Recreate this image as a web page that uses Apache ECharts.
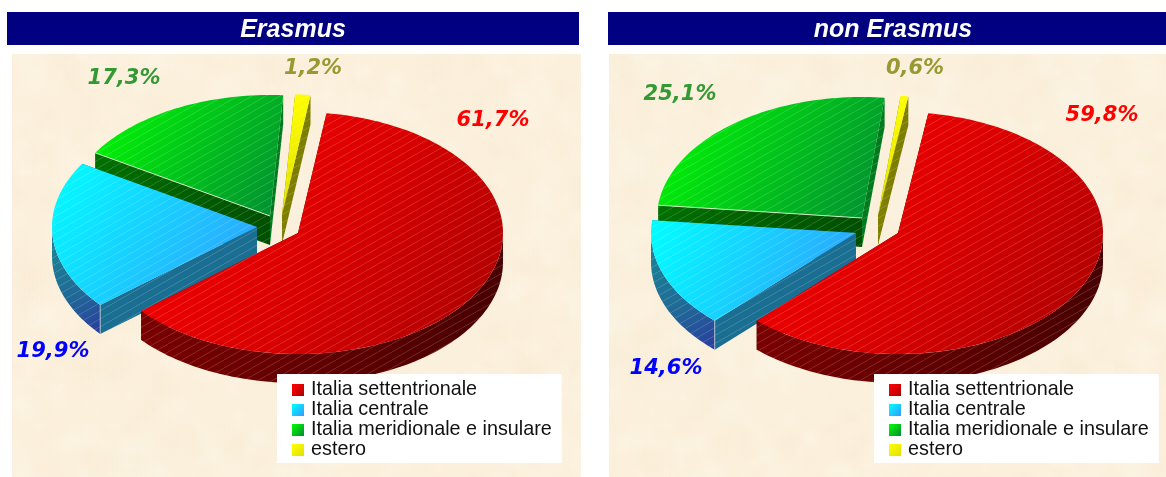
<!DOCTYPE html>
<html><head><meta charset="utf-8">
<style>html,body{margin:0;padding:0;background:#fff}#c{width:1166px;height:477px}</style>
<script src="https://cdn.jsdelivr.net/npm/echarts@6/dist/echarts.min.js"></script>
</head><body><div id="c"></div>
<script>
// ---- data ----
const categories = ['Italia settentrionale','Italia centrale','Italia meridionale e insulare','estero'];
const panelTitles = ['Erasmus','non Erasmus'];
const erasmusShares = [61.7,19.9,17.3,1.2];
const nonErasmusShares = [59.8,14.6,25.1,0.6];

// ---- layout and style ----
const RX=205, RY=121, DEPTH=29;
const layouts = [
  {cx:298,cy:233,start:-82,
   offset:[[0,0],[-41,-6],[-28,-17],[-16,-18]],
   label:[[493,121],[53,352],[124,79],[313,69]],
   legend:{left:277,top:374}},
  {cx:898,cy:233,start:-81.5,
   offset:[[0,0],[-42,0],[-36,-15],[-20,-17]],
   label:[[1102,116],[666,369],[680,95],[915,69]],
   legend:{left:874,top:374}}
];
const LG=echarts.graphic.LinearGradient;
const topFill=[
  ()=>new LG(0,0,1,1,[{offset:0,color:'#ff0000'},{offset:.55,color:'#d80000'},{offset:1,color:'#a80000'}]),
  ()=>new LG(0,0,1,1,[{offset:0,color:'#00ffff'},{offset:1,color:'#3399ff'}]),
  ()=>new LG(0,0,1,1,[{offset:0,color:'#00ff00'},{offset:1,color:'#008c33'}]),
  ()=>new LG(0,0,1,1,[{offset:0,color:'#ffff00'},{offset:1,color:'#e0e000'}])
];
const outerFill=[
  ()=>new LG(0,0,1,0,[{offset:0,color:'#7a0000'},{offset:.6,color:'#5c0000'},{offset:1,color:'#480000'}]),
  ()=>new LG(0,0,1,1,[{offset:0,color:'#178a96'},{offset:.6,color:'#206a96'},{offset:1,color:'#2a3c9e'}]),
  ()=>'#006600',
  ()=>'#808000'
];
const cutFill=[
  ()=>'#660000',
  ()=>'#1a6e92',
  ()=>new LG(0,0,1,0,[{offset:0,color:'#007000'},{offset:1,color:'#004f00'}]),
  ()=>'#808000'
];
const endCutFill=[()=>'#660000',()=>'#1a6e92',()=>'#007a1c',()=>'#7d7d00'];
const labelColors=['#ff0000','#0000ff','#339933','#999933'];

const hatch=document.createElement('canvas');
hatch.width=14;hatch.height=8;
(function(){const g=hatch.getContext('2d');g.strokeStyle='rgba(255,255,255,.17)';g.lineWidth=1;
 g.beginPath();g.moveTo(0,8);g.lineTo(14,0);g.stroke();})();

function parchment(w,h){
  const c=document.createElement('canvas');c.width=w;c.height=h;const g=c.getContext('2d');
  g.fillStyle='#fbf0dc';g.fillRect(0,0,w,h);
  let s=12345;const r=()=>(s=(s*16807)%2147483647)/2147483647;
  for(let i=0;i<1100;i++){
    const x=r()*w,y=r()*h,R=4+r()*20,t=r()>.5;
    const gr=g.createRadialGradient(x,y,0,x,y,R);
    gr.addColorStop(0,t?'rgba(255,250,238,.16)':'rgba(247,232,204,.14)');
    gr.addColorStop(1,t?'rgba(255,250,238,0)':'rgba(247,232,204,0)');
    g.fillStyle=gr;g.fillRect(x-R,y-R,2*R,2*R);
  }
  return c;
}
const texL=parchment(569,423),texR=parchment(557,423);

function arc(cx,cy,a,b,dy){
  const pts=[];const n=Math.max(2,Math.ceil(Math.abs(b-a)/1.5));
  for(let i=0;i<=n;i++){const t=(a+(b-a)*i/n)*Math.PI/180;
    pts.push([cx+RX*Math.cos(t),cy+RY*Math.sin(t)+dy]);}
  return pts;
}
function pctText(v){return v.toFixed(1).replace('.',',')+'%';}

function sliceRenderer(panel,idx,shares){
  const lay=layouts[panel];
  const total=shares.reduce((p,q)=>p+q,0);
  let before=0;for(let i=0;i<idx;i++)before+=shares[i];
  return function(params,api){
    const v=api.value(0);
    const a0=lay.start+before/total*360, a1=a0+v/total*360;
    const cx=lay.cx+lay.offset[idx][0], cy=lay.cy+lay.offset[idx][1];
    const kids=[];
    const poly=(points,fill)=>kids.push({type:'polygon',shape:{points},style:{fill}});
    const poly2=(points,fill)=>{poly(points,fill);poly(points,{image:hatch,repeat:'repeat'});};
    const p0=arc(cx,cy,a0,a0,0)[0], p1=arc(cx,cy,a1,a1,0)[0];
    poly2([[cx,cy],p1,[p1[0],p1[1]+DEPTH],[cx,cy+DEPTH]],endCutFill[idx]());
    poly2([[cx,cy],p0,[p0[0],p0[1]+DEPTH],[cx,cy+DEPTH]],cutFill[idx]());
    const lo=Math.max(a0,0), hi=Math.min(a1,180);
    if(hi>lo){
      const top=arc(cx,cy,lo,hi,0), bot=arc(cx,cy,lo,hi,DEPTH).reverse();
      poly2(top.concat(bot),outerFill[idx]());
    }
    const face=[[cx,cy]].concat(arc(cx,cy,a0,a1,0));
    poly2(face,topFill[idx]());
    if(idx===2) kids.push({type:'line',shape:{x1:cx,y1:cy,x2:p0[0],y2:p0[1]},style:{stroke:'rgba(255,255,235,.75)',lineWidth:1}});
    if(idx===1) kids.push({type:'line',shape:{x1:p0[0],y1:p0[1],x2:p0[0],y2:p0[1]+DEPTH},style:{stroke:'rgba(220,220,220,.7)',lineWidth:1}});
    const l=lay.label[idx];
    kids.push({type:'text',z2:50,style:{text:pctText(v),x:l[0],y:l[1],align:'center',verticalAlign:'middle',
      fill:labelColors[idx],font:'italic bold 21px "DejaVu Sans"'}});
    return {type:'group',children:kids};
  };
}

const series=[];
[erasmusShares,nonErasmusShares].forEach((shares,panel)=>{
  [3,2,1,0].forEach(idx=>{
    series.push({type:'custom',name:categories[idx],coordinateSystem:'none',silent:true,
      itemStyle:{color:['#e00000','#33ccff','#00cc00','#eeee00'][idx]},
      data:[[shares[idx]]],renderItem:sliceRenderer(panel,idx,shares)});
  });
});

const legendData=()=>categories.map((n,i)=>({name:n,icon:'rect',itemStyle:{color:topFill[i]()}}));
const legendCommon={orient:'vertical',backgroundColor:'#fff',padding:[6,10,3,15],itemWidth:12,itemHeight:12,itemGap:0,
  selectedMode:false,z:20,
  textStyle:{fontFamily:'"Liberation Sans"',fontSize:19.8,color:'#111',padding:[0,0,0,2],lineHeight:18}};

const chart=echarts.init(document.getElementById('c'),null,{renderer:'canvas'});
chart.setOption({
  animation:false,
  backgroundColor:'#fff',
  title:panelTitles.map((t,i)=>({text:t,left:i?888:288,top:13,textAlign:'center',
    textStyle:{color:'#fff',fontFamily:'"Liberation Sans"',fontStyle:'italic',fontWeight:'bold',fontSize:25}})),
  graphic:[
    {type:'rect',z:0,shape:{x:7,y:12,width:572,height:33},style:{fill:'#000080'}},
    {type:'rect',z:0,shape:{x:608,y:12,width:558,height:33},style:{fill:'#000080'}},
    {type:'rect',z:0,shape:{x:12,y:54,width:569,height:423},style:{fill:{image:texL,repeat:'repeat'}}},
    {type:'rect',z:0,shape:{x:609,y:54,width:557,height:423},style:{fill:{image:texR,repeat:'repeat'}}}
  ],
  legend:layouts.map(l=>Object.assign({},legendCommon,l.legend,{data:legendData()})),
  series
});
</script></body></html>
